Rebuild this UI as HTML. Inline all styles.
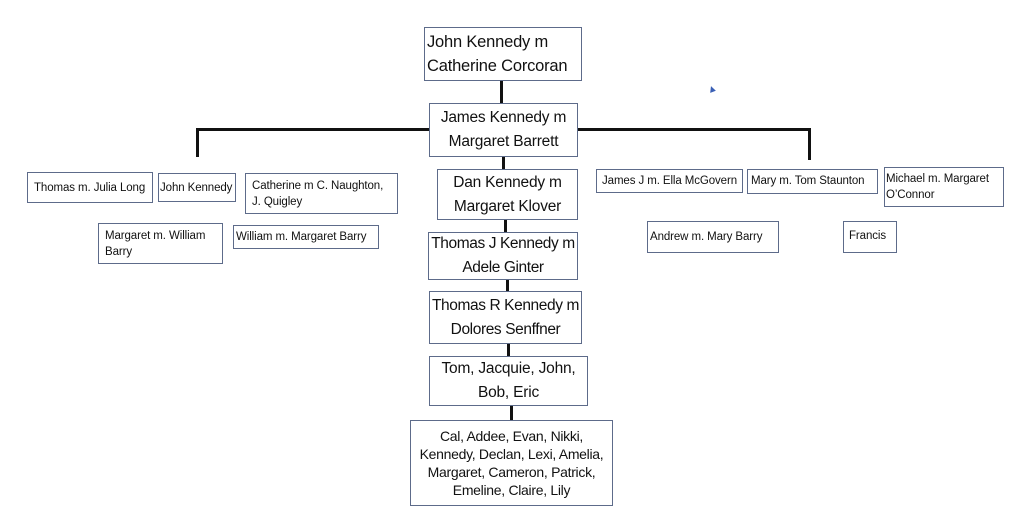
<!DOCTYPE html>
<html><head><meta charset="utf-8"><style>
body{margin:0;width:1024px;height:527px;background:#fff;position:relative;overflow:hidden;font-family:"Liberation Sans",sans-serif;color:#111}
.b{position:absolute;border:1.5px solid #5d6b8a;box-sizing:border-box;background:#fff;white-space:nowrap}
.L{font-size:15.5px;line-height:24px;text-align:center;display:flex;align-items:center;justify-content:center;letter-spacing:-0.2px}
.s{font-size:11.5px;line-height:16px;padding:5px 6px;letter-spacing:-0.1px}
.v{position:absolute;width:3px;background:#111}
.h{position:absolute;height:3px;background:#111}
</style></head><body>
<div class="b L" style="left:424px;top:27px;width:158px;height:54px;text-align:left;justify-content:flex-start;font-size:16.5px;padding-left:2px">John Kennedy m<br>Catherine Corcoran</div>
<div class="v" style="left:500px;top:81px;height:22px"></div>
<div class="b L" style="left:429px;top:103px;width:149px;height:54px">James Kennedy m<br>Margaret Barrett</div>
<div class="h" style="left:196px;top:128px;width:233px"></div>
<div class="v" style="left:196px;top:128px;height:29px"></div>
<div class="h" style="left:578px;top:128px;width:232px"></div>
<div class="v" style="left:808px;top:128px;height:32px"></div>
<div class="v" style="left:502px;top:157px;height:12px"></div>
<div class="b L" style="left:437px;top:169px;width:141px;height:51px">Dan Kennedy m<br>Margaret Klover</div>
<div class="v" style="left:504px;top:220px;height:12px"></div>
<div class="b L" style="left:428px;top:232px;width:150px;height:48px;letter-spacing:-0.4px">Thomas J Kennedy m<br>Adele Ginter</div>
<div class="v" style="left:506px;top:280px;height:11px"></div>
<div class="b L" style="left:429px;top:291px;width:153px;height:53px;letter-spacing:-0.4px">Thomas R Kennedy m<br>Dolores Senffner</div>
<div class="v" style="left:507px;top:344px;height:12px"></div>
<div class="b L" style="left:429px;top:356px;width:159px;height:50px">Tom, Jacquie, John,<br>Bob, Eric</div>
<div class="v" style="left:510px;top:406px;height:14px"></div>
<div class="b L" style="left:410px;top:420px;width:203px;height:86px;line-height:18px;font-size:14px;letter-spacing:-0.3px">Cal, Addee, Evan, Nikki,<br>Kennedy, Declan, Lexi, Amelia,<br>Margaret, Cameron, Patrick,<br>Emeline, Claire, Lily</div>

<div class="b s" style="left:27px;top:172px;width:126px;height:31px;padding-top:7px">Thomas m. Julia Long</div>
<div class="b s" style="left:158px;top:173px;width:78px;height:29px;padding:6px 1px">John Kennedy</div>
<div class="b s" style="left:245px;top:173px;width:153px;height:41px;padding-top:4px">Catherine m C. Naughton,<br>J. Quigley</div>
<div class="b s" style="left:98px;top:223px;width:125px;height:41px;padding-top:4px">Margaret m. William<br>Barry</div>
<div class="b s" style="left:233px;top:225px;width:146px;height:24px;padding:3px 2px">William m. Margaret Barry</div>
<div class="b s" style="left:596px;top:169px;width:147px;height:24px;padding:3px 5px">James J m. Ella McGovern</div>
<div class="b s" style="left:747px;top:169px;width:131px;height:25px;padding:3px 3px">Mary m. Tom Staunton</div>
<div class="b s" style="left:884px;top:167px;width:120px;height:40px;padding:3px 1px">Michael m. Margaret<br>O’Connor</div>
<div class="b s" style="left:647px;top:221px;width:132px;height:32px;padding:7px 2px">Andrew m. Mary Barry</div>
<div class="b s" style="left:843px;top:221px;width:54px;height:32px;padding:6px 5px">Francis</div>
<div style="position:absolute;left:709px;top:86px;width:0;height:0;border-left:3px solid transparent;border-right:3px solid transparent;border-bottom:6px solid #3a5fb5;transform:rotate(-20deg)"></div>
</body></html>
